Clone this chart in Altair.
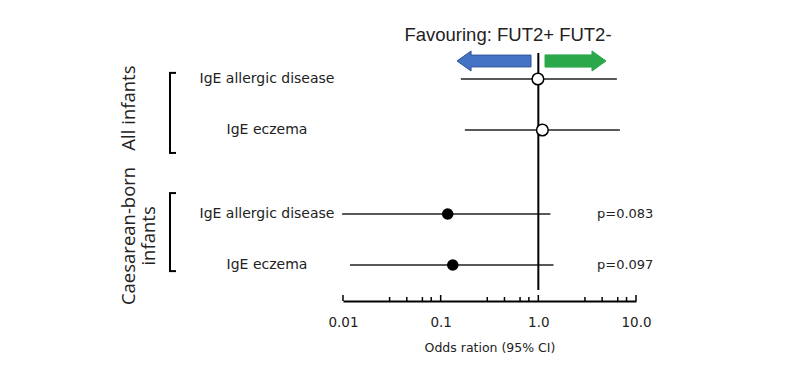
import altair as alt
import pandas as pd

# ---- data ----
groups = ["All infants", "All infants", "Caesarean-born infants", "Caesarean-born infants"]
outcomes = ["IgE allergic disease", "IgE eczema", "IgE allergic disease", "IgE eczema"]
odds = [0.99, 1.10, 0.118, 0.133]
ci_low = [0.161, 0.177, 0.0098, 0.0118]
ci_high = [6.37, 6.84, 1.33, 1.43]
pvalues = ["", "", "p=0.083", "p=0.097"]
significant_marker = [False, False, True, True]

group_labels = ["All infants", "Caesarean-born\ninfants"]
major_ticks = [0.01, 0.1, 1, 10]
tick_labels = ["0.01", "0.1", "1.0", "10.0"]
minor_steps = [3, 4.5, 6.5, 8]
minor_ticks = [d * s for d in [0.01, 0.1, 1] for s in minor_steps]

title_text = "Favouring: FUT2+ FUT2-"
axis_title = "Odds ration (95% CI)"

# ---- layout constants ----
FONT = "DejaVu Sans"
GFONT = "Open Sans"
GROUP_GAP = 0.647
W, H = 293, 283
LABEL_SHIFT = [0.07, -0.07]           # label centre offset from group mean (row units)
BRACKET_EXTENT = [(-0.12, 0.45), (-0.41, 0.12)]  # bracket ends offset (row units)

group_order = list(dict.fromkeys(groups))
pos = []
for i, g in enumerate(groups):
    pos.append(i + GROUP_GAP * group_order.index(g))

df = pd.DataFrame({
    "group": groups, "outcome": outcomes, "or": odds, "lo": ci_low, "hi": ci_high,
    "p": pvalues, "filled": significant_marker, "pos": pos,
})

gdf = df.groupby("group", sort=False).agg(top=("pos", "min"), bottom=("pos", "max")).reset_index()
gdf["label"] = group_labels
gdf["mid"] = (gdf["top"] + gdf["bottom"]) / 2 + pd.Series(LABEL_SHIFT)
gdf["btop"] = gdf["top"] + pd.Series([e[0] for e in BRACKET_EXTENT])
gdf["bbot"] = gdf["bottom"] + pd.Series([e[1] for e in BRACKET_EXTENT])
gdf["label_lines"] = gdf["label"].str.split("\n")

xscale = alt.Scale(type="log", domain=[0.01, 10], nice=False)
yscale = alt.Scale(domain=[-1.196, 4.353], reverse=True, nice=False, zero=False)

label_expr = " : ".join(
    [f"datum.value == {v} ? '{t}'" for v, t in zip(major_ticks, tick_labels)] + ["''"]
)
xaxis = alt.Axis(
    values=major_ticks, labelExpr=label_expr, ticks=False, grid=False, labelFlush=False,
    domainColor="black", domainWidth=2, labelFont=FONT, labelFontSize=13.5,
    labelColor="#222", labelPadding=14, title=axis_title, titleFont=FONT,
    titleFontSize=12.5, titleFontWeight="normal", titleColor="#222", titlePadding=13,
)

def X(field):
    return alt.X(f"{field}:Q", scale=xscale, axis=xaxis)

Y = alt.Y("pos:Q", scale=yscale, axis=None)

ci = alt.Chart(df).mark_rule(color="#222", strokeWidth=1.5).encode(
    x=X("lo"), x2="hi", y=Y
)

ref = alt.Chart(pd.DataFrame({"v": [1]})).mark_rule(color="black", strokeWidth=2).encode(
    x=X("v"), y=alt.value(35), y2=alt.value(272)
)

open_pts = alt.Chart(df[~df["filled"]]).mark_point(
    shape="circle", size=135, filled=True, fill="white", stroke="black", strokeWidth=1.5, opacity=1
).encode(x=X("or"), y=Y)

filled_pts = alt.Chart(df[df["filled"]]).mark_point(
    shape="circle", size=135, filled=True, color="black", opacity=1
).encode(x=X("or"), y=Y)

major = alt.Chart(pd.DataFrame({"t": major_ticks})).mark_rule(color="black", strokeWidth=1.5).encode(
    x=X("t"), y=alt.value(H), y2=alt.value(H - 6)
)
minor = alt.Chart(pd.DataFrame({"t": minor_ticks})).mark_rule(color="black", strokeWidth=1.5).encode(
    x=X("t"), y=alt.value(H), y2=alt.value(H - 4)
)

row_labels = alt.Chart(df).mark_text(
    font=FONT, fontSize=14, color="#222", align="center", baseline="middle"
).encode(x=alt.value(-76), y=Y, text="outcome:N")

p_labels = alt.Chart(df).mark_text(
    font=FONT, fontSize=13, color="#222", align="left", baseline="middle"
).encode(x=alt.value(254), y=Y, text="p:N")

group_text = alt.Chart(gdf).mark_text(
    font=GFONT, fontSize=18.5, color="#222", align="center", baseline="middle",
    angle=270, lineHeight=20
).encode(x=alt.value(-214), y=alt.Y("mid:Q", scale=yscale, axis=None), text="label_lines")

bracket_v = alt.Chart(gdf).mark_rule(color="black", strokeWidth=2).encode(
    x=alt.value(-173), y=alt.Y("btop:Q", scale=yscale, axis=None), y2="bbot:Q"
)
bracket_t = alt.Chart(gdf).mark_rule(color="black", strokeWidth=2).encode(
    x=alt.value(-174), x2=alt.value(-167), y=alt.Y("btop:Q", scale=yscale, axis=None)
)
bracket_b = alt.Chart(gdf).mark_rule(color="black", strokeWidth=2).encode(
    x=alt.value(-174), x2=alt.value(-167), y=alt.Y("bbot:Q", scale=yscale, axis=None)
)

title = alt.Chart(pd.DataFrame({"t": [title_text]})).mark_text(
    font="Liberation Sans", fontSize=18.5, color="#222", align="center", baseline="middle"
).encode(x=alt.value(165), y=alt.value(17), text="t:N")

left_arrow_path = "M-1,0 L-0.62,-0.27 L-0.62,-0.16 L1,-0.16 L1,0.16 L-0.62,0.16 L-0.62,0.27 Z"
right_arrow_path = "M1,0 L0.54,-0.33 L0.54,-0.2 L-1,-0.2 L-1,0.2 L0.54,0.2 L0.54,0.33 Z"

blue_arrow = alt.Chart(pd.DataFrame({"a": [0]})).mark_point(
    shape=left_arrow_path, size=74 * 74, filled=True, fill="#4472C4", stroke="#2F5597",
    strokeWidth=1, opacity=1
).encode(x=alt.value(151), y=alt.value(43))

green_arrow = alt.Chart(pd.DataFrame({"a": [0]})).mark_point(
    shape=right_arrow_path, size=61 * 61, filled=True, fill="#2BA84A", stroke="#2BA84A",
    strokeWidth=1, opacity=1
).encode(x=alt.value(232.5), y=alt.value(43))

chart = alt.layer(
    ci, ref, major, minor, open_pts, filled_pts, row_labels, p_labels, group_text,
    bracket_v, bracket_t, bracket_b, title, blue_arrow, green_arrow
).properties(
    width=W, height=H,
    autosize=alt.AutoSizeParams(type="none"),
    padding={"left": 335, "top": 10, "right": 150, "bottom": 70},
).configure(background="white").configure_view(stroke=None, strokeWidth=0)

chart.save("out.html", embed_options={"renderer": "svg", "actions": False})
